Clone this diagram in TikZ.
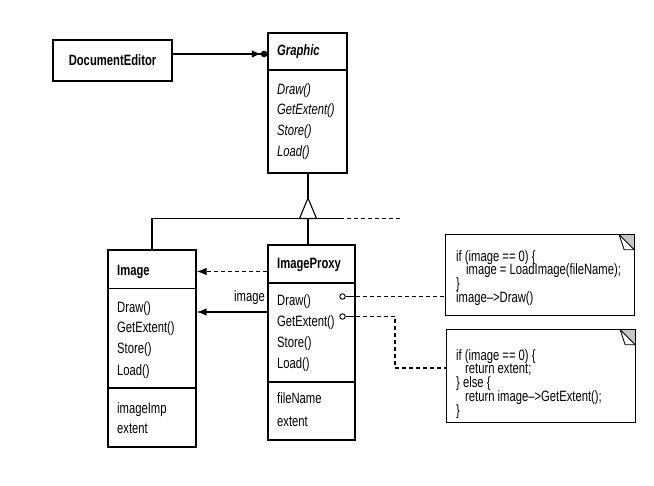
\documentclass[tikz,border=0pt]{standalone}
\usepackage{fontspec}
\setmainfont{Liberation Sans}[FakeStretch=0.75]
\usetikzlibrary{arrows.meta}
\newcommand\fsz{\fontsize{15}{18}\selectfont}
\newcommand\codesz{\fontsize{15}{13.8}\selectfont\lineskiplimit=-20pt\lineskip=0pt\relax}
\begin{document}
\begin{tikzpicture}[x=1pt,y=-1pt,
  every node/.style={font=\fsz},
  cls/.style={draw, line width=1.3pt, inner sep=0pt},
  txt/.style={anchor=base west, inner sep=0pt},
  itxt/.style={txt, font=\fsz\itshape},
  btxt/.style={txt, font=\fsz\bfseries},
  code/.style={anchor=north west, inner sep=0pt, align=left, font=\codesz},
  conn/.style={line width=1.1pt},
  dashln/.style={conn, dash pattern=on 4pt off 3pt},
  arr/.style={-{Latex[length=10pt,width=7.5pt]}},
  notebox/.style={inner sep=0pt},
  dot/.style={circle, draw, line width=0.9pt, minimum size=5.5pt, inner sep=0pt},
  divider/.style={line width=1.3pt}]
\useasboundingbox (0,0) rectangle (654,486);

% DocumentEditor
\node[cls, minimum width=119pt, minimum height=41pt, font=\fsz\bfseries] (de) at (112.5,60.5) {DocumentEditor};

% Graphic
\node[cls, minimum width=79pt, minimum height=140pt] (gr) at (307.5,103) {};
\draw[divider] (gr.west |- 0,70) -- (gr.east |- 0,70);
\node[txt, font=\fsz\bfseries\itshape] (grt) at (277,56) {Graphic};
\node[itxt] (gr1) at (277,94.7) {Draw()};
\node[itxt] (gr2) at (277,114.7) {GetExtent()};
\node[itxt] (gr3) at (277,135.7) {Store()};
\node[itxt] (gr4) at (277,156.7) {Load()};

\draw[conn, -{Latex[length=9pt,width=7.5pt]Circle[length=6.5pt]}] ([yshift=6.5pt]de.east) -- ([yshift=6.5pt]de.east -| gr.west);

% Image
\node[cls, minimum width=88pt, minimum height=197pt] (im) at (152,348.5) {};
\draw[divider] (im.west |- 0,288.5) -- (im.east |- 0,288.5);
\draw[divider] (im.west |- 0,388) -- (im.east |- 0,388);
\node[btxt] (imt) at (117,275.7) {Image};
\node[txt] (im1) at (117,312.3) {Draw()};
\node[txt] (im2) at (117,332.3) {GetExtent()};
\node[txt] (im3) at (117,354) {Store()};
\node[txt] (im4) at (117,375.7) {Load()};
\node[txt] (im5) at (117,414) {imageImp};
\node[txt] (im6) at (117,433.3) {extent};

% ImageProxy
\node[cls, minimum width=87pt, minimum height=195pt] (ip) at (311.5,342.5) {};
\draw[divider] (ip.west |- 0,283) -- (ip.east |- 0,283);
\draw[divider] (ip.west |- 0,382) -- (ip.east |- 0,382);
\node[btxt] (ipt) at (277,269) {ImageProxy};
\node[txt] (ip1) at (277,305.7) {Draw()};
\node[txt] (ip2) at (277,326.7) {GetExtent()};
\node[txt] (ip3) at (277,347.3) {Store()};
\node[txt] (ip4) at (277,369) {Load()};
\node[txt] (ip5) at (277,404) {fileName};
\node[txt] (ip6) at (277,426.7) {extent};

% inheritance
\coordinate (apex) at (308,198);
\coordinate (bl) at (299.5,218.5);
\coordinate (br) at (316.5,218.5);
\coordinate (barR) at (340,218.5);
\coordinate (barD) at (402,218.5);
\draw[conn] (gr.south -| apex) -- (apex);
\draw[conn, line join=miter] (apex) -- (bl) -- (br) -- cycle;
\draw[conn] (im.north) |- (barR);
\draw[dashln] (barR) -- (barD);
\draw[conn] (bl -| apex) -- (ip.north -| apex);

% ImageProxy -> Image
\draw[dashln, arr] (ip.west |- 0,271.5) -- (im.east |- 0,271.5);
\draw[conn, arr] (ip.west |- 0,312) -- (im.east |- 0,312);
\node[txt, anchor=base east] (lblimg) at (265,302) {image};

% notes
\node[notebox, minimum width=188pt, minimum height=80pt] (n1) at (540,275) {};
\node[notebox, minimum width=188pt, minimum height=92pt] (n2) at (541,376) {};
\foreach \n in {n1,n2} {
  \fill[gray!45] ([xshift=-15pt]\n.north east) -- (\n.north east) -- ([yshift=-15pt]\n.north east) -- cycle;
  \draw[line width=1.3pt] (\n.north west) rectangle (\n.south east);
  \draw[line width=0.9pt, fill=white, line join=round] ([xshift=-15pt]\n.north east) -- ([xshift=-10pt,yshift=-15pt]\n.north east) -- ([yshift=-15pt]\n.north east) -- cycle;
}
\node[code] (n1txt) at (456,250) {if (image == 0) \{\\\hspace*{10pt}image = LoadImage(fileName);\\\}\\image-->Draw()};
\node[code] (n2txt) at (456,349) {if (image == 0) \{\\\hspace*{9pt}return extent;\\\} else \{\\\hspace*{9pt}return image-->GetExtent();\\\}};

% operation notes connectors
\node[dot] (c1) at (342.5,296.5) {};
\node[dot] (c2) at (342.5,316.5) {};
\draw[conn] (c1.east) -- (c1.east -| ip.east);
\draw[dashln] (c1.east -| ip.east) -- (c1.east -| n1.west);
\draw[conn] (c2.east) -- (c2.east -| ip.east);
\coordinate (bend) at (395,368);
\draw[dashln] (c2.east -| ip.east) -| (bend) -- (bend -| n2.west);
\end{tikzpicture}
\end{document}
